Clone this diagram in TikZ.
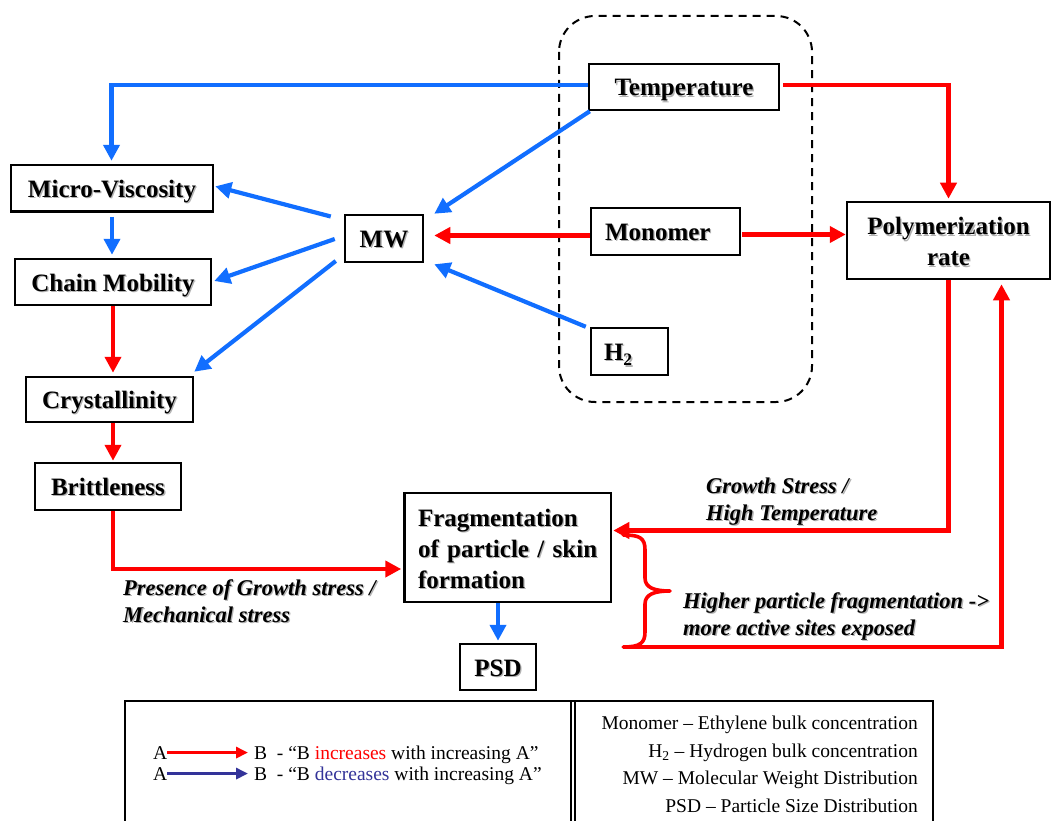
\documentclass[tikz,border=0pt]{standalone}
\usepackage{fontspec}
\setmainfont{Liberation Serif}
\usetikzlibrary{arrows.meta,calc}
\definecolor{myred}{RGB}{255,0,0}
\definecolor{myblue}{RGB}{17,110,255}
\definecolor{legblue}{RGB}{51,51,153}
\newcommand\sh[1]{\makebox[0pt][l]{\kern1.3pt\raisebox{-1.3pt}{\textcolor{black!30}{#1}}}#1}
\tikzset{
  box/.style={draw, line width=2.5pt, inner sep=0pt, fill=white,
    font=\fontsize{25}{31}\selectfont\bfseries},
  box1/.style={box, text height=18pt, text depth=0pt},
  lbl/.style={inner sep=0pt, anchor=north west, align=left,
    font=\fontsize{22.5}{27}\selectfont\bfseries\itshape},
  redarr/.style={draw=myred, line width=4.2pt, -{Triangle[length=16pt,width=16pt]}},
  bluearr/.style={draw=myblue, line width=4.2pt, -{Triangle[length=16pt,width=16pt]}},
  leg/.style={inner sep=0pt, font=\fontsize{19.5}{28}\selectfont},
  legarr/.style={line width=3.2pt, -{Triangle[length=12pt,width=11pt]}},
}
\begin{document}
\begin{tikzpicture}[x=1pt,y=-1pt]
\useasboundingbox[fill=white] (0,0) rectangle (1051,821);

% group frame
\draw[line width=2pt, dash pattern=on 8pt off 6pt, rounded corners=36pt] (559,16) rectangle (812,402);

% nodes
\node[box1, minimum width=202pt, minimum height=46.5pt] (mv) at (112,188.3) {\sh{Micro-Viscosity}};
\node[box1, minimum width=196pt, minimum height=46pt] (cm) at (113,282) {\sh{Chain Mobility}};
\node[box1, minimum width=167pt, minimum height=45pt] (cr) at (109.5,399.5) {\sh{Crystallinity}};
\node[box1, minimum width=146pt, minimum height=47pt] (br) at (108,486.5) {\sh{Brittleness}};
\node[box1, minimum width=78pt, minimum height=47pt] (mw) at (384,238.5) {\sh{MW}};
\node[box1, minimum width=190pt, minimum height=46pt] (temp) at (684,87) {\sh{Temperature}};
\node[box1, text width=121pt, inner xsep=14pt, align=left, minimum height=47pt] (mon) at (665.5,231.5) {\sh{Monomer}};
\node[box1, text width=51pt, inner xsep=13pt, align=left, minimum height=47pt] (h2) at (629.5,351.5) {\sh{H\textsubscript{\raisebox{-1.5pt}{2}}}};
\node[box, minimum width=203pt, minimum height=77pt, align=center] (poly) at (948.5,240.5) {\rule{0pt}{21pt}\sh{Polymerization}\\\sh{rate}};
\node[box, text width=179.5pt, inner xsep=13.5pt, align=left, minimum height=109pt] (frag) at (507.75,547.5) {\rule{0pt}{21pt}\sh{Fragmentation}\\\sh{of particle / skin}\\\sh{formation}};
\node[box1, minimum width=76pt, minimum height=46pt] (psd) at (498,667) {\sh{PSD}};

% connectors
\draw[bluearr] ($(temp.west)+(0,-2)$) -| ($(mv.north)+(-0.5,-3)$);
\draw[bluearr] ($(temp.south west)+(2,0)$) -- ($(mw.north east)+(10,0)$);
\draw[redarr] ($(mon.west)+(0,4)$) -- ($(mw.east)+(10,-3)$);
\draw[bluearr] ($(h2.north west)+(-4,0)$) -- ($(mw.south east)+(10,1)$);
\draw[bluearr] ($(mw.west)+(-13,-22)$) -- ($(mv.east)+(1,-2)$);
\draw[bluearr] ($(mw.west)+(-9,0.5)$) -- ($(cm.east)+(2,-1)$);
\draw[bluearr] ($(mw.west)+(-8,22.5)$) -- ($(cr.north east)+(0,-4)$);
\draw[bluearr, shorten <=4pt] (mv.south) -- ($(mv.south |- cm.north)+(0,-3)$);
\draw[redarr] (cm.south) -- ($(cm.south |- cr.north)+(0,-3)$);
\draw[redarr] ($(cr.south)+(3.5,0)$) -- ($(cr.south |- br.north)+(3.5,-1)$);
\draw[redarr] ($(br.south)+(5,0)$) |- ($(frag.west)+(-2,21.5)$);
\draw[redarr] ($(temp.east)+(3,-2)$) -| ($(poly.north)+(0,-2)$);
\draw[redarr] ($(mon.east)+(1,3)$) coordinate (m1) -- (m1 -| poly.west);
\draw[redarr] (poly.south) |- ($(frag.east)+(1,-17)$);
\coordinate (bt) at ($(frag.east)+(11,-12.5)$);
\coordinate (bb) at ($(frag.east)+(11,99.5)$);
\draw[myred, line width=3.6pt, line cap=round, line join=round]
  (bt) .. controls (640,535) and (645,538) .. (645,550) -- (645,578)
  .. controls (645,588) and (655,591) .. (670,591)
  .. controls (655,591) and (645,594) .. (645,604) -- (645,632)
  .. controls (645,643) and (640,647) .. (bb);
\draw[redarr] (bb) -| ($(poly.south)+(53,4)$);
\draw[bluearr] (frag.south -| psd.north) -- ($(psd.north)+(0,-2)$);

% italic labels
\node[lbl] (lpres) at (123,576.1) {\strut\sh{Presence of Growth stress /}\\\sh{Mechanical stress}};
\node[lbl] (lgrow) at (706,474.1) {\strut\sh{Growth Stress /}\\\sh{High Temperature}};
\node[lbl] (lhigh) at (683,589.1) {\strut\sh{Higher particle fragmentation ->}\\\sh{more active sites exposed}};

% legend
\draw[line width=1.5pt] (125,821) -- (125,701) -- (933,701) -- (933,821);
\draw[line width=1.5pt] (571,701) -- (571,821);
\draw[line width=1.5pt] (575,701) -- (575,821);
\node[leg, anchor=base west] (la1) at (153,759) {A};
\node[leg, anchor=base west] (lb1) at (254,759) {B\ \ - “B \textcolor{myred}{increases} with increasing A”};
\node[leg, anchor=base west] (la2) at (153,780) {A};
\node[leg, anchor=base west] (lb2) at (254,780) {B\ \ - “B \textcolor{legblue}{decreases} with increasing A”};
\draw[legarr, myred, shorten >=6pt] (la1.east) -- (la1.east -| lb1.west);
\draw[legarr, legblue, shorten >=6pt] (la2.east) -- (la2.east -| lb2.west);
\node[leg, anchor=base east] (d1) at (918,729) {Monomer – Ethylene bulk concentration};
\node[leg, anchor=base east] (d2) at (918,757) {H\textsubscript{2} – Hydrogen bulk concentration};
\node[leg, anchor=base east] (d3) at (918,784) {MW – Molecular Weight Distribution};
\node[leg, anchor=base east] (d4) at (918,812) {PSD – Particle Size Distribution};
\end{tikzpicture}
\end{document}
